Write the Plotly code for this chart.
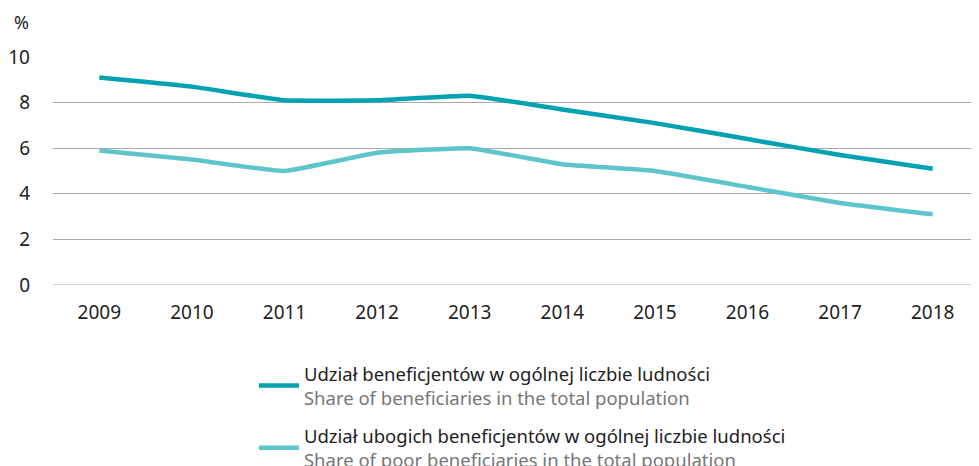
import plotly.graph_objects as go

years = ["2009", "2010", "2011", "2012", "2013", "2014", "2015", "2016", "2017", "2018"]
share_all = [9.1, 8.7, 8.1, 8.1, 8.3, 7.7, 7.1, 6.4, 5.7, 5.1]
share_poor = [5.9, 5.5, 5.0, 5.8, 6.0, 5.3, 5.0, 4.3, 3.6, 3.1]
y_ticks = [0, 2, 4, 6, 8, 10]

name_all = ("Udział beneficjentów w ogólnej liczbie ludności<br>"
            "<span style='color:#777777'>Share of beneficiaries in the total population</span>")
name_poor = ("Udział ubogich beneficjentów w ogólnej liczbie ludności<br>"
             "<span style='color:#777777'>Share of poor beneficiaries in the total population</span>")

fig = go.Figure()
fig.add_trace(go.Scatter(x=years, y=share_all, mode="lines", name=name_all, legendgroup="a",
                         line=dict(color="#00a2b1", width=4.5, shape="spline", smoothing=0.3)))
fig.add_trace(go.Scatter(x=years, y=share_poor, mode="lines", name=name_poor, legendgroup="b",
                         line=dict(color="#5ec5cd", width=4.5, shape="spline", smoothing=0.3)))

font_family = "Noto Sans"
fig.update_layout(
    width=971, height=458,
    margin=dict(l=45, r=0, t=49, b=181, autoexpand=False),
    paper_bgcolor="white", plot_bgcolor="white",
    font=dict(family=font_family, size=19, color="#222222"),
    showlegend=True,
    legend=dict(x=0.217, xanchor="left", y=-0.307, yanchor="top",
                font=dict(family=font_family, size=18.5, color="#222222"),
                valign="middle", traceorder="grouped", tracegroupgap=11, itemwidth=40,
                bgcolor="rgba(0,0,0,0)"),
    xaxis=dict(type="category", range=[-0.5, 9.5], showgrid=False, zeroline=False,
               showline=False, ticks="", ticklabelstandoff=14,
               tickfont=dict(size=19, color="#222222")),
    yaxis=dict(range=[0, 10], tickvals=y_ticks, showgrid=True, gridcolor="#aaaaaa",
               gridwidth=1, zeroline=False, showline=False, ticks="",
               ticklabelstandoff=22, tickfont=dict(size=19, color="#222222")),
    annotations=[dict(text="%", xref="paper", yref="paper", x=-0.034, y=1.153,
                      xanchor="center", yanchor="middle", showarrow=False,
                      font=dict(size=18, color="#222222"))],
)
fig.add_hline(y=0, line=dict(color="#aaaaaa", width=1), layer="below")

fig.write_html("out.html")
